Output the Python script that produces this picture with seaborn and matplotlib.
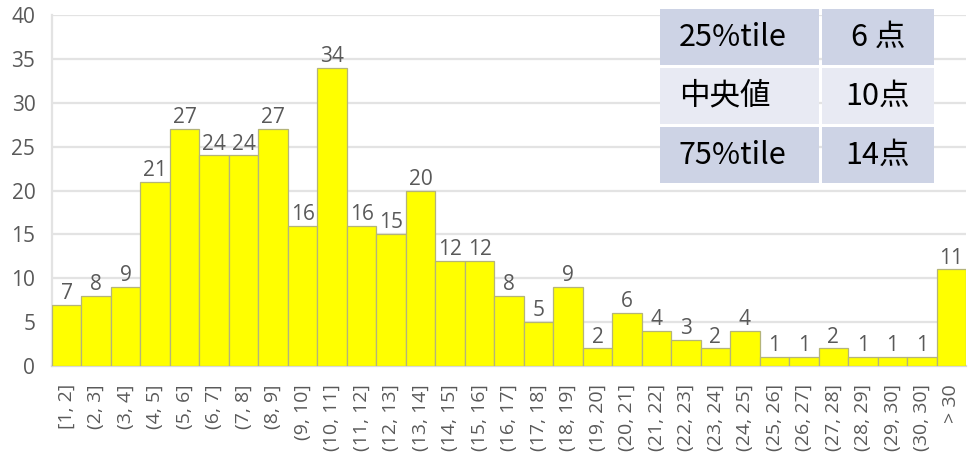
import matplotlib
matplotlib.use('Agg')
import matplotlib.pyplot as plt
import seaborn as sns
import pandas as pd
from matplotlib.patches import Rectangle

# 区間ラベルと件数
bins = ['[1, 2]', '(2, 3]', '(3, 4]', '(4, 5]', '(5, 6]', '(6, 7]', '(7, 8]', '(8, 9]',
        '(9, 10]', '(10, 11]', '(11, 12]', '(12, 13]', '(13, 14]', '(14, 15]', '(15, 16]',
        '(16, 17]', '(17, 18]', '(18, 19]', '(19, 20]', '(20, 21]', '(21, 22]', '(22, 23]',
        '(23, 24]', '(24, 25]', '(25, 26]', '(26, 27]', '(27, 28]', '(28, 29]', '(29, 30]',
        '(30, 30]', '> 30']
counts = [7, 8, 9, 21, 27, 24, 24, 27, 16, 34, 16, 15, 20, 12, 12,
          8, 5, 9, 2, 6, 4, 3, 2, 4, 1, 1, 2, 1, 1, 1, 11]

# 統計表
stat_names = ['25%tile', '中央値', '75%tile']
stat_values = ['6 点', '10点', '14点']

sns.set_style('white')
plt.rcParams['font.family'] = ['Open Sans', 'Noto Sans CJK JP', 'DejaVu Sans']

df = pd.DataFrame({'bin': bins, 'count': counts})

fig = plt.figure(figsize=(9.68, 4.62), dpi=100)
ax = fig.add_axes([52 / 968, 1 - 366 / 462, 914 / 968, 351 / 462])

sns.barplot(data=df, x='bin', y='count', color='#ffff00', saturation=1,
            width=1.0, edgecolor='#b4b47a', linewidth=0.9, ax=ax, zorder=3)

ax.set_ylim(0, 40)
ax.set_xlim(-0.5, len(bins) - 0.5)
ax.set_yticks(range(0, 41, 5))
ax.yaxis.grid(True, color='#e3e3e3', linewidth=1.6, zorder=0)
ax.set_axisbelow(True)
ax.set_xlabel('')
ax.set_ylabel('')

for s in ['top', 'right']:
    ax.spines[s].set_visible(False)
ax.spines['left'].set_color('#e3e3e3')
ax.spines['left'].set_linewidth(1.6)
ax.spines['bottom'].set_color('#d9d9d9')
ax.spines['bottom'].set_linewidth(1.6)

ax.tick_params(axis='y', length=0, labelsize=15, labelcolor='#595959', pad=12)
ax.tick_params(axis='x', length=0, labelsize=14, labelcolor='#595959', pad=13, rotation=90)

for i, v in enumerate(counts):
    ax.text(i, v + 0.1, str(v), ha='center', va='bottom', fontsize=15, color='#595959')

# 右上の統計表
row_tops = [9, 68, 127]
row_h = 56
col_x = [660, 822]
col_w = [159, 112]
row_colors = ['#cdd3e5', '#e8eaf3', '#cdd3e5']
for r in range(3):
    for c in range(2):
        x0 = col_x[c] / 968
        y0 = 1 - (row_tops[r] + row_h) / 462
        fig.patches.append(Rectangle((x0, y0), col_w[c] / 968, row_h / 462,
                                     transform=fig.transFigure, facecolor=row_colors[r],
                                     edgecolor='none', zorder=5))
    yc = 1 - (row_tops[r] + row_h / 2) / 462
    fig.text(679 / 968, yc, stat_names[r], ha='left', va='center', fontsize=22,
             color='black', family=['Noto Sans CJK JP', 'DejaVu Sans'], zorder=6)
    fig.text(878 / 968, yc, stat_values[r], ha='center', va='center', fontsize=22,
             color='black', family=['Noto Sans CJK JP', 'DejaVu Sans'], zorder=6)

fig.savefig('out.png', dpi=100)
